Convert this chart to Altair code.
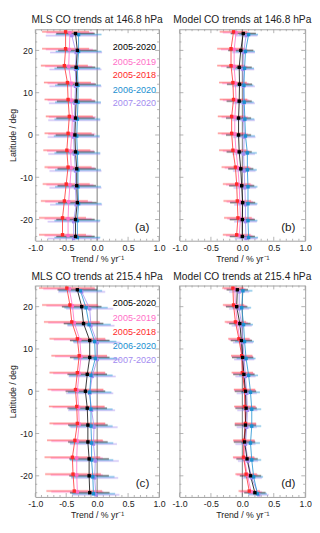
import altair as alt
import pandas as pd

FONT = "Liberation Sans"

lats = [24, 20, 16, 12, 8, 4, 0, -4, -8, -12, -16, -20, -24]
series_names = ["2005-2020", "2005-2019", "2005-2018", "2006-2020", "2007-2020"]
series_colors = ["#000000", "#ff6ec7", "#ff2a2a", "#1a8fd0", "#a38cf0"]
lat_offsets = [0.0, 0.2, 0.4, -0.25, -0.5]
draw_order = [4, 3, 1, 2, 0]

# (a) MLS CO trends at 146.8 hPa
mls146 = [
    [-0.35, -0.32, -0.34, -0.33, -0.34, -0.35, -0.36, -0.35, -0.33, -0.33, -0.32, -0.35, -0.35],
    [-0.44, -0.45, -0.46, -0.42, -0.42, -0.40, -0.41, -0.43, -0.42, -0.44, -0.46, -0.47, -0.47],
    [-0.51, -0.51, -0.53, -0.48, -0.47, -0.45, -0.47, -0.49, -0.47, -0.50, -0.53, -0.56, -0.56],
    [-0.30, -0.30, -0.32, -0.31, -0.31, -0.32, -0.33, -0.32, -0.31, -0.31, -0.30, -0.32, -0.32],
    [-0.41, -0.34, -0.35, -0.35, -0.36, -0.37, -0.38, -0.37, -0.35, -0.35, -0.34, -0.38, -0.38],
]
mls146_err = [0.31, 0.38, 0.38, 0.37, 0.42]

# (b) Model CO trends at 146.8 hPa
mod146 = [
    [0.015, -0.025, -0.05, -0.045, -0.05, -0.06, -0.06, -0.05, -0.025, -0.01, 0.005, 0.0, 0.0],
    [-0.10, -0.13, -0.13, -0.11, -0.10, -0.12, -0.12, -0.10, -0.07, -0.05, -0.04, -0.03, -0.05],
    [-0.14, -0.18, -0.18, -0.15, -0.14, -0.17, -0.17, -0.15, -0.11, -0.09, -0.08, -0.07, -0.09],
    [0.10, 0.05, 0.035, 0.025, 0.03, 0.04, 0.05, 0.08, 0.08, 0.09, 0.09, 0.09, 0.10],
    [0.06, 0.02, 0.01, 0.02, 0.02, 0.02, 0.03, 0.02, 0.03, 0.04, 0.05, 0.05, 0.06],
]
mod146_err = [0.2, 0.21, 0.22, 0.15, 0.18]

# (c) MLS CO trends at 215.4 hPa
mls215 = [
    [-0.32, -0.25, -0.22, -0.12, -0.12, -0.16, -0.19, -0.16, -0.15, -0.15, -0.13, -0.13, -0.12],
    [-0.45, -0.40, -0.37, -0.28, -0.26, -0.29, -0.32, -0.30, -0.29, -0.32, -0.33, -0.33, -0.32],
    [-0.49, -0.44, -0.41, -0.32, -0.29, -0.32, -0.35, -0.33, -0.32, -0.36, -0.40, -0.39, -0.37],
    [-0.27, -0.18, -0.13, -0.04, -0.03, -0.10, -0.12, -0.10, -0.10, -0.09, -0.09, -0.07, -0.06],
    [-0.25, -0.12, -0.10, 0.00, 0.00, -0.08, -0.12, -0.09, -0.05, -0.06, -0.03, -0.04, -0.02],
]
mls215_err = [0.32, 0.42, 0.45, 0.35, 0.38]

# (d) Model CO trends at 215.4 hPa
mod215 = [
    [-0.08, -0.09, -0.04, -0.015, 0.005, 0.025, 0.05, 0.06, 0.05, 0.035, 0.075, 0.13, 0.20],
    [-0.12, -0.11, -0.08, -0.04, 0.0, 0.02, 0.04, 0.05, 0.05, 0.03, 0.03, 0.08, 0.14],
    [-0.15, -0.14, -0.11, -0.055, -0.01, 0.0, 0.035, 0.04, 0.05, 0.025, 0.02, 0.06, 0.11],
    [0.01, -0.01, 0.02, 0.035, 0.06, 0.10, 0.13, 0.15, 0.15, 0.13, 0.15, 0.18, 0.24],
    [-0.05, -0.05, -0.01, 0.01, 0.03, 0.05, 0.07, 0.08, 0.07, 0.05, 0.09, 0.15, 0.26],
]
mod215_err = [0.17, 0.17, 0.17, 0.15, 0.16]

x_major_ticks = [-1.0, -0.5, 0.0, 0.5, 1.0]
x_minor_ticks = [-0.9, -0.8, -0.7, -0.6, -0.4, -0.3, -0.2, -0.1,
                 0.1, 0.2, 0.3, 0.4, 0.6, 0.7, 0.8, 0.9]
y_major_ticks = [-20, -10, 0, 10, 20]
y_minor_ticks = [-24, -22, -18, -16, -14, -12, -8, -6, -4, -2,
                 2, 4, 6, 8, 12, 14, 16, 18, 22, 24]

legend_y = [18, 33.5, 47.5, 62, 76]

FRAME = "#a0a0a0"
TXT = "#222222"


def make_df(values, errs):
    rows = []
    for k in draw_order:
        for lat, v in zip(lats, values[k]):
            rows.append({
                "series": series_names[k],
                "lat": lat,
                "ylat": lat + lat_offsets[k],
                "value": v,
                "lo": v - errs[k],
                "hi": v + errs[k],
            })
    return pd.DataFrame(rows)


def panel(values, errs, title, label, W, H, left_axis, legend):
    df = make_df(values, errs)
    xscale = alt.Scale(domain=[-1, 1], nice=False, zero=False)
    yscale = alt.Scale(domain=[-25, 25], nice=False, zero=False)
    xaxis = alt.Axis(values=x_major_ticks,
                     labelExpr="replace(format(datum.value, '.1f'), '\u2212', '-')",
                     title="Trend / % yr\u207b\u00b9", labelFlush=False, labelOverlap=False)
    if left_axis:
        yaxis = alt.Axis(values=y_major_ticks,
                         labelExpr="replace(format(datum.value, 'd'), '\u2212', '-')",
                         title="Latitude / deg", labelOverlap=False)
    else:
        yaxis = None
    cenc = alt.Color("series:N", scale=alt.Scale(domain=series_names, range=series_colors), legend=None)

    base = alt.Chart(df)
    bars_wide = base.mark_rule(strokeWidth=2.6, opacity=0.2).encode(
        x=alt.X("lo:Q", scale=xscale, axis=xaxis),
        x2="hi:Q",
        y=alt.Y("ylat:Q", scale=yscale, axis=yaxis),
        color=cenc,
    )
    bars_thin = base.mark_rule(strokeWidth=0.8, opacity=0.45).encode(
        x=alt.X("lo:Q", scale=xscale, axis=xaxis),
        x2="hi:Q",
        y=alt.Y("ylat:Q", scale=yscale, axis=yaxis),
        color=cenc,
    )
    lines = base.mark_line(strokeWidth=0.8).encode(
        x=alt.X("value:Q", scale=xscale, axis=xaxis),
        y=alt.Y("ylat:Q", scale=yscale, axis=yaxis),
        color=cenc,
        detail="series:N",
        order="lat:Q",
    )
    pts = base.mark_point(shape="square", filled=True, size=12, opacity=1).encode(
        x=alt.X("value:Q", scale=xscale, axis=xaxis),
        y=alt.Y("ylat:Q", scale=yscale, axis=yaxis),
        color=cenc,
    )
    zero = alt.Chart(pd.DataFrame({"z": [0.0]})).mark_rule(color="#7a7a7a", strokeWidth=1).encode(
        x=alt.X("z:Q", scale=xscale, axis=xaxis)
    )

    xmaj = alt.Chart(pd.DataFrame({"t": x_major_ticks}))
    xmin = alt.Chart(pd.DataFrame({"t": x_minor_ticks}))
    ymaj = alt.Chart(pd.DataFrame({"t": y_major_ticks}))
    ymin = alt.Chart(pd.DataFrame({"t": y_minor_ticks}))
    tick_layers = []
    for src, ln in [(xmaj, 4), (xmin, 2)]:
        tick_layers.append(src.mark_rule(color=FRAME, strokeWidth=0.8).encode(
            x=alt.X("t:Q", scale=xscale, axis=xaxis), y=alt.value(H), y2=alt.value(H - ln)))
        tick_layers.append(src.mark_rule(color=FRAME, strokeWidth=0.8).encode(
            x=alt.X("t:Q", scale=xscale, axis=xaxis), y=alt.value(0), y2=alt.value(ln)))
    for src, ln in [(ymaj, 4), (ymin, 2)]:
        tick_layers.append(src.mark_rule(color=FRAME, strokeWidth=0.8).encode(
            y=alt.Y("t:Q", scale=yscale, axis=yaxis), x=alt.value(0), x2=alt.value(ln)))
        tick_layers.append(src.mark_rule(color=FRAME, strokeWidth=0.8).encode(
            y=alt.Y("t:Q", scale=yscale, axis=yaxis), x=alt.value(W), x2=alt.value(W - ln)))

    texts = []
    if legend:
        for name, col, yy in zip(series_names, series_colors, legend_y):
            texts.append(alt.Chart(pd.DataFrame({"t": [name]})).mark_text(
                align="right", baseline="middle", fontSize=9.3, font=FONT, color=col
            ).encode(x=alt.value(W - 3), y=alt.value(yy), text="t:N"))
    texts.append(alt.Chart(pd.DataFrame({"t": [label]})).mark_text(
        align="right", baseline="middle", fontSize=12, font=FONT, color=TXT
    ).encode(x=alt.value(W - 10), y=alt.value(H - 14), text="t:N"))

    layers = tick_layers + [zero, bars_wide, bars_thin, lines, pts] + texts
    return alt.layer(*layers).properties(
        width=W, height=H,
        title=alt.TitleParams(title, fontSize=10.5, fontWeight="normal", font=FONT,
                              color=TXT, offset=3, anchor="middle"),
    )


WL, WR, H = 127, 129, 217
pa = panel(mls146, mls146_err, "MLS CO trends at 146.8 hPa", "(a)", WL, H, True, True)
pb = panel(mod146, mod146_err, "Model CO trends at 146.8 hPa", "(b)", WR, H, False, False)
pc = panel(mls215, mls215_err, "MLS CO trends at 215.4 hPa", "(c)", WL, H, True, True)
pd_ = panel(mod215, mod215_err, "Model CO trends at 215.4 hPa", "(d)", WR, H, False, False)

chart = alt.concat(
    pa, pb, pc, pd_, columns=2, bounds="flush",
    spacing=alt.RowColnumber(row=46, column=21),
).properties(
    padding=0
).configure_view(
    stroke=FRAME, strokeWidth=1
).configure_axis(
    grid=False, ticks=False, domain=False,
    labelFont=FONT, titleFont=FONT, labelFontSize=9, titleFontSize=9,
    labelColor=TXT, titleColor=TXT, titleFontWeight="normal",
    labelPadding=3, titlePadding=2,
)

chart.save("out.html", embed_options={"renderer": "svg", "actions": False})
